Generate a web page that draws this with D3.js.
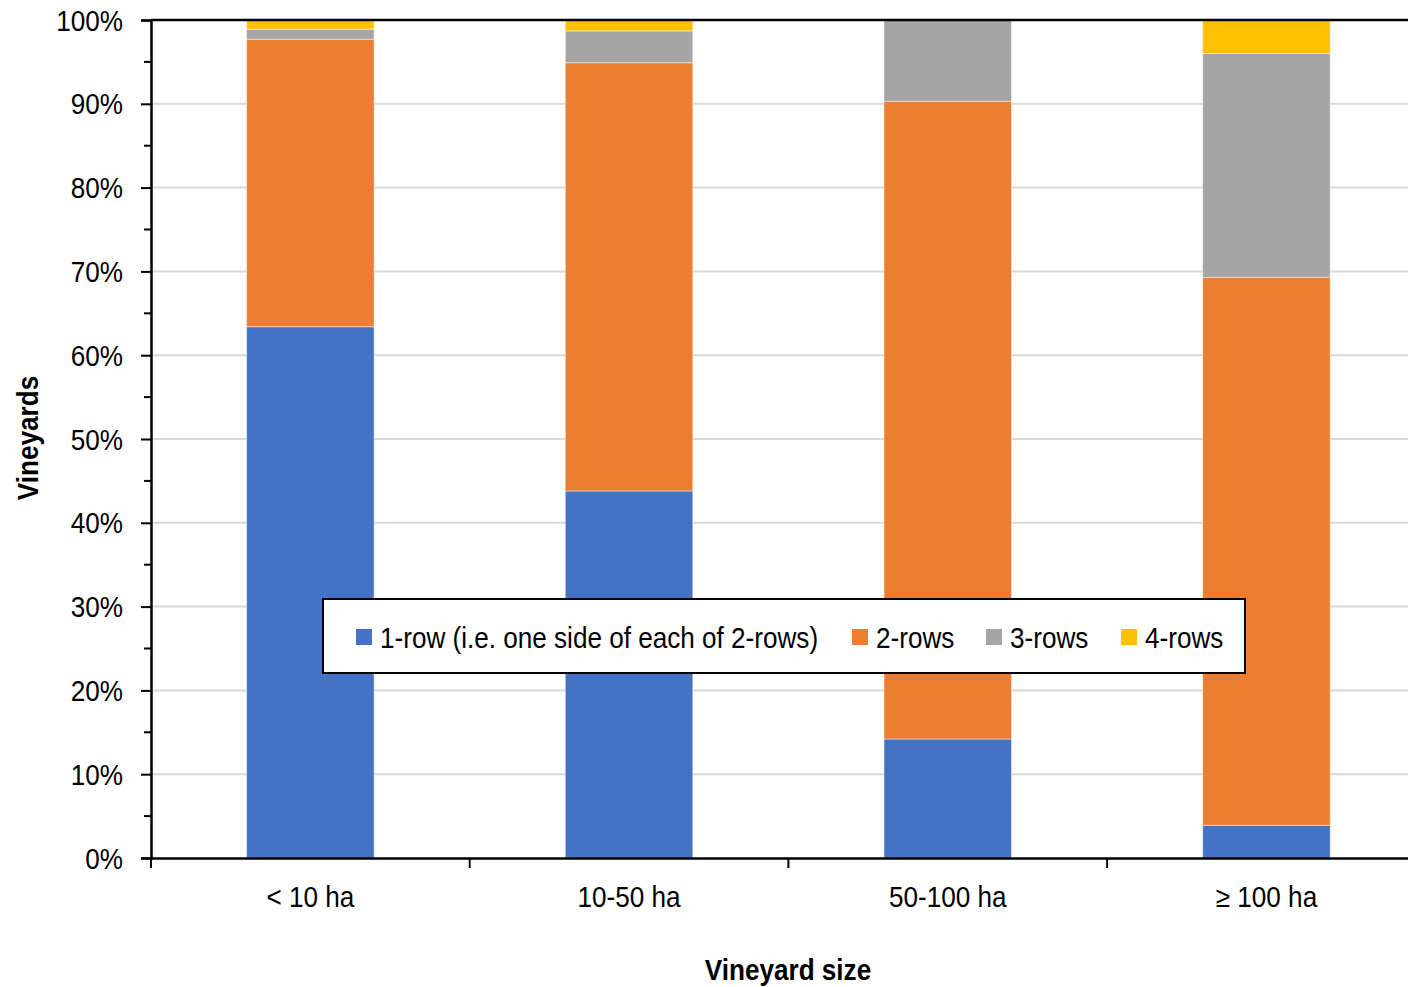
<!DOCTYPE html>
<html>
<head>
<meta charset="utf-8">
<script src="https://cdn.jsdelivr.net/npm/d3@7/dist/d3.min.js"></script>
<style>
  html, body { margin: 0; padding: 0; background: #fff; }
  svg { display: block; }
  text { font-family: "Liberation Sans Narrow", "Arial Narrow", "Liberation Sans", Arial, sans-serif; fill: #000; }
</style>
</head>
<body>
<svg id="chart" width="1408" height="987"></svg>
<script>
// Vineyard size classes
const categories = ["< 10 ha", "10-50 ha", "50-100 ha", "\u2265 100 ha"];
// Share of vineyards (%) by number of rows, per size class
const oneRow   = [63.4, 43.8, 14.2, 3.9];
const twoRows  = [34.3, 51.1, 76.1, 65.4];
const threeRows = [1.2, 3.8, 9.7, 26.7];
const fourRows = [1.1, 1.3, 0.0, 4.0];
const seriesNames = ["1-row (i.e. one side of each of 2-rows)", "2-rows", "3-rows", "4-rows"];
const seriesColors = ["#4472c4", "#ed7d31", "#a5a5a5", "#ffc000"];
const yTicks = [0, 10, 20, 30, 40, 50, 60, 70, 80, 90, 100];

const svg = d3.select("#chart");
const plotLeft = 151, plotTop = 20, plotBottom = 858, bandW = 318.7;
const plotRight = plotLeft + bandW * categories.length;
const fontPx = "29px";

// Narrow the text horizontally (condensed look)
function condense(sel, k = 0.9) {
  sel.each(function () {
    const w = this.getComputedTextLength();
    d3.select(this).attr("textLength", w * k).attr("lengthAdjust", "spacingAndGlyphs");
  });
}

const x = d3.scaleBand().domain(categories).range([plotLeft, plotRight]).paddingInner(0).paddingOuter(0);
const y = d3.scaleLinear().domain([0, 100]).range([plotBottom, plotTop]);

// Gridlines
svg.append("g").selectAll("line").data(yTicks.filter(d => d > 0 && d < 100)).join("line")
  .attr("x1", plotLeft).attr("x2", 1408)
  .attr("y1", d => y(d)).attr("y2", d => y(d))
  .attr("stroke", "#d9d9d9").attr("stroke-width", 2);

// Stacked bars
const rows = categories.map((c, i) => ({
  cat: c,
  s0: oneRow[i], s1: twoRows[i], s2: threeRows[i], s3: fourRows[i]
}));
const stack = d3.stack().keys(["s0", "s1", "s2", "s3"]);
const layers = stack(rows);
const barW = x.bandwidth() * 0.4;

svg.append("g").selectAll("g").data(layers).join("g")
  .attr("fill", (d, i) => seriesColors[i])
  .selectAll("rect").data(d => d.filter(p => p[1] - p[0] > 0)).join("rect")
  .attr("x", d => x(d.data.cat) + (x.bandwidth() - barW) / 2)
  .attr("width", barW)
  .attr("y", d => y(d[1]))
  .attr("height", d => y(d[0]) - y(d[1]))
  .attr("stroke", "rgba(255,255,255,0.45)")
  .attr("stroke-width", 1);

// Top border of the plot
svg.append("line").attr("x1", plotLeft).attr("x2", 1408)
  .attr("y1", y(100)).attr("y2", y(100))
  .attr("stroke", "#000").attr("stroke-width", 2.5);

// Y axis
const yAxis = d3.axisLeft(y).tickValues(yTicks).tickFormat(d => d + "%").tickSize(10).tickPadding(18);
const yg = svg.append("g").attr("transform", `translate(${plotLeft},0)`).call(yAxis);
yg.select(".domain").attr("stroke", "#000").attr("stroke-width", 2.5);
yg.selectAll(".tick line").attr("stroke", "#000").attr("stroke-width", 2);
yg.selectAll(".tick text").style("font-size", fontPx).attr("dy", "0.35em").call(condense);
// Minor ticks
svg.append("g").selectAll("line").data(d3.range(5, 100, 10)).join("line")
  .attr("x1", plotLeft - 7).attr("x2", plotLeft)
  .attr("y1", d => y(d)).attr("y2", d => y(d))
  .attr("stroke", "#000").attr("stroke-width", 2);

// X axis
const xg = svg.append("g").attr("transform", `translate(0,${plotBottom})`)
  .call(d3.axisBottom(x).tickSize(0).tickPadding(28));
xg.select(".domain").attr("stroke", "#000").attr("stroke-width", 2.5);
xg.selectAll(".tick text").style("font-size", fontPx).attr("dy", "0.71em").call(condense);
// Category separator ticks
svg.append("g").selectAll("line").data(categories).join("line")
  .attr("x1", d => x(d)).attr("x2", d => x(d))
  .attr("y1", plotBottom).attr("y2", plotBottom + 10)
  .attr("stroke", "#000").attr("stroke-width", 2);

// Axis titles
svg.append("text").attr("x", 788).attr("y", 980).attr("text-anchor", "middle")
  .style("font-size", fontPx).style("font-weight", "bold").text("Vineyard size").call(condense);
svg.append("text").attr("transform", "translate(38,438) rotate(-90)").attr("text-anchor", "middle")
  .style("font-size", fontPx).style("font-weight", "bold").text("Vineyards").call(condense);

// Legend
const lg = svg.append("g");
lg.append("rect").attr("x", 323).attr("y", 599).attr("width", 922).attr("height", 74)
  .attr("fill", "#fff").attr("stroke", "#000").attr("stroke-width", 2);
const legendX = [356, 852, 986, 1121];
seriesNames.forEach((name, i) => {
  lg.append("rect").attr("x", legendX[i]).attr("y", 629).attr("width", 16).attr("height", 16)
    .attr("fill", seriesColors[i]);
  lg.append("text").attr("x", legendX[i] + 24).attr("y", 648)
    .style("font-size", fontPx).text(name).call(condense);
});
</script>
</body>
</html>
